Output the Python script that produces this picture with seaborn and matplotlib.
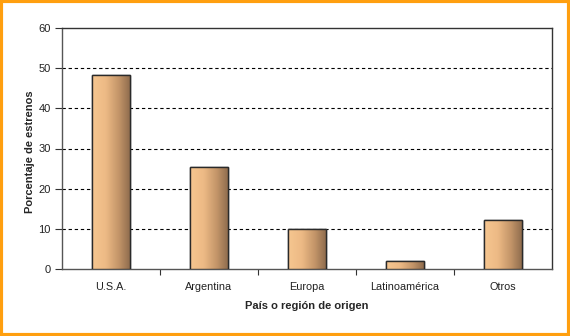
import numpy as np
import pandas as pd
import matplotlib
matplotlib.use("Agg")
import matplotlib.pyplot as plt
import seaborn as sns
from matplotlib.colors import LinearSegmentedColormap
from matplotlib.patches import Rectangle

categories = ["U.S.A.", "Argentina", "Europa", "Latinoamérica", "Otros"]
values = [48.2, 25.3, 10.0, 1.9, 12.2]
y_ticks = [0, 10, 20, 30, 40, 50, 60]
x_label = "País o región de origen"
y_label = "Porcentaje de estrenos"

sns.set_style("white")
plt.rcParams["font.family"] = ["Liberation Sans", "DejaVu Sans"]

df = pd.DataFrame({"cat": categories, "val": values})

fig = plt.figure(figsize=(5.70, 3.36), dpi=100)
fig.patch.set_facecolor("white")
ax = fig.add_axes([62 / 570, 1 - 269 / 336, (552 - 62) / 570, (269 - 28) / 336])

sns.barplot(data=df, x="cat", y="val", ax=ax, width=0.39, color="#F5C08C",
            edgecolor="#2a2a2a", linewidth=1.0, zorder=3)

ax.set_ylim(0, 60)
ax.set_xlim(-0.5, len(categories) - 0.5)
ax.set_yticks(y_ticks)
ax.set_yticklabels([str(t) for t in y_ticks], fontsize=8, color="#222222")
ax.tick_params(axis="x", labelsize=7.8, labelcolor="#222222", length=0, pad=9)
ax.tick_params(axis="y", length=5, width=0.8, color="#333333", direction="out", pad=3, left=True)

# minor ticks between categories on x axis
ax.set_xticks(np.arange(len(categories) - 1) + 0.5, minor=True)
ax.tick_params(axis="x", which="minor", length=4, width=0.8, color="#333333", direction="out", bottom=True)

# gridlines
for t in y_ticks[1:-1]:
    ax.axhline(t, color="black", linestyle=(0, (3, 2.5)), linewidth=0.8, zorder=1)

for s in ax.spines.values():
    s.set_visible(True)
    s.set_color("#333333")
    s.set_linewidth(1.0)
ax.spines["left"].set_color("#555555")
ax.spines["bottom"].set_color("#555555")

ax.set_xlabel(x_label, fontsize=8, fontweight="bold", labelpad=7)
ax.set_ylabel(y_label, fontsize=8, fontweight="bold", labelpad=1)
ax.yaxis.set_label_coords(-27 / 490, 0.485)

# gradient fill for bars
cmap = LinearSegmentedColormap.from_list("bar", [(0.0, "#F6C690"), (0.35, "#EDBA85"),
                                                  (0.7, "#C29468"), (1.0, "#8C6A4C")])
grad = np.linspace(0, 1, 64).reshape(1, -1)
for p in list(ax.patches):
    x0, y0 = p.get_x(), p.get_y()
    w, h = p.get_width(), p.get_height()
    im = ax.imshow(grad, extent=[x0, x0 + w, y0, y0 + h], aspect="auto", cmap=cmap,
                   zorder=3.5, interpolation="bicubic")
    im.set_clip_path(p)
    edge = Rectangle((x0, y0), w, h, fill=False, edgecolor="#2a2a2a", linewidth=1.0, zorder=4)
    ax.add_patch(edge)
ax.set_xlim(-0.5, len(categories) - 0.5)
ax.set_ylim(0, 60)

# orange frame
frame = Rectangle((0.002, 0.004), 0.9955, 0.992, transform=fig.transFigure, fill=False,
                  edgecolor="#FF9F0F", linewidth=3.0)
fig.patches.append(frame)

fig.savefig("out.png", dpi=100, facecolor="white")
